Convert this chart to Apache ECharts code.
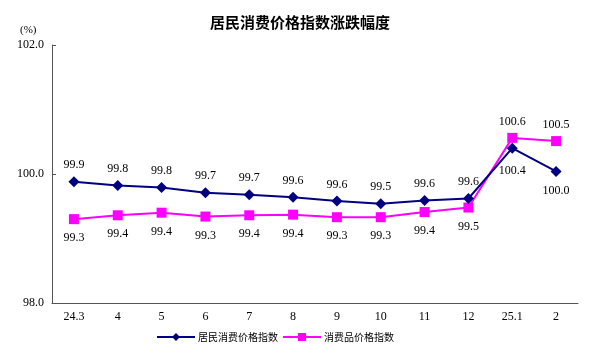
<!DOCTYPE html>
<html>
<head>
<meta charset="utf-8">
<script src="https://cdn.jsdelivr.net/npm/echarts@6/dist/echarts.min.js"></script>
<style>html,body{margin:0;padding:0;background:#fff}#c{width:600px;height:359px}</style>
</head>
<body>
<div id="c"></div>
<script>
var categories = ['24.3','4','5','6','7','8','9','10','11','12','25.1','2'];
var cpiValues = [99.88, 99.82, 99.79, 99.71, 99.68, 99.64, 99.58, 99.54, 99.59, 99.62, 100.40, 100.04];
var goodsValues = [99.30, 99.36, 99.40, 99.34, 99.36, 99.37, 99.33, 99.33, 99.41, 99.48, 100.56, 100.51];
var yTicks = [98, 100, 102];

var serifFont = '"Liberation Serif", "DejaVu Serif", serif';
var cjkFont = '"Noto Sans CJK SC", sans-serif';

function buildData(values, flipFrom, normalPos, flipPos) {
  return values.map(function (v, i) {
    var pos = i >= flipFrom ? flipPos : normalPos;
    return { value: v, label: { position: pos, distance: pos === 'top' ? 5 : (i === flipFrom ? 11 : 8) } };
  });
}

var chart = echarts.init(document.getElementById('c'), null, { renderer: 'canvas' });
chart.setOption({
  animation: false,
  backgroundColor: '#fff',
  title: {
    text: '居民消费价格指数涨跌幅度',
    left: 'center',
    top: 10,
    textStyle: { fontFamily: cjkFont, fontSize: 15, fontWeight: 'bold', color: '#000' }
  },
  graphic: [{
    type: 'text', left: 20, top: 25,
    style: { text: '(%)', fontFamily: serifFont, fontSize: 11, fill: '#000' }
  }],
  legend: {
    bottom: 12,
    left: 151,
    itemWidth: 38,
    itemHeight: 10,
    itemGap: 4,
    textStyle: { fontFamily: cjkFont, fontSize: 10, color: '#000', padding: [0, 0, 0, -2] },
    data: ['居民消费价格指数', '消费品价格指数']
  },
  grid: { left: 52, right: 22, top: 45, bottom: 56, containLabel: false },
  xAxis: {
    type: 'category',
    data: categories,
    boundaryGap: true,
    axisLine: { lineStyle: { color: '#555', width: 1 } },
    axisTick: { inside: true, length: 4, lineStyle: { color: '#555' } },
    axisLabel: { color: '#000', fontFamily: serifFont, fontSize: 12, margin: 8 }
  },
  yAxis: {
    type: 'value',
    min: yTicks[0],
    max: yTicks[yTicks.length - 1],
    interval: 2,
    axisLine: { show: true, lineStyle: { color: '#555', width: 1 } },
    axisTick: { show: true, inside: true, length: 4, lineStyle: { color: '#555' } },
    splitLine: { show: false },
    axisLabel: {
      color: '#000', fontFamily: serifFont, fontSize: 12, margin: 8,
      formatter: function (v) { return v.toFixed(1); }
    }
  },
  series: [
    {
      name: '居民消费价格指数',
      type: 'line',
      data: buildData(cpiValues, 10, 'top', 'bottom'),
      symbol: 'diamond',
      symbolSize: [11, 11],
      itemStyle: { color: '#000080' },
      lineStyle: { color: '#000080', width: 2 },
      label: {
        show: true, color: '#000', fontFamily: serifFont, fontSize: 12,
        formatter: function (p) { return p.value.toFixed(1); }
      },
      z: 3
    },
    {
      name: '消费品价格指数',
      type: 'line',
      data: buildData(goodsValues, 10, 'bottom', 'top'),
      symbol: 'rect',
      symbolSize: [10, 10],
      itemStyle: { color: '#ff00ff' },
      lineStyle: { color: '#ff00ff', width: 2 },
      label: {
        show: true, color: '#000', fontFamily: serifFont, fontSize: 12,
        formatter: function (p) { return p.value.toFixed(1); }
      },
      z: 2
    }
  ]
});
</script>
</body>
</html>
